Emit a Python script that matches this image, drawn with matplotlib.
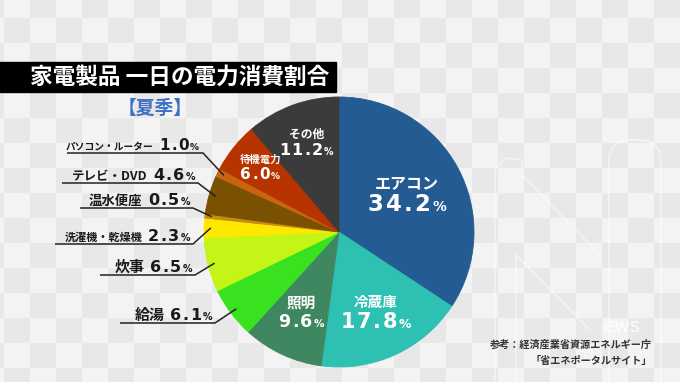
import numpy as np
import matplotlib
matplotlib.use('Agg')
import matplotlib.pyplot as plt
from matplotlib.patches import FancyBboxPatch
from matplotlib.offsetbox import TextArea, HPacker, VPacker, AnnotationBbox

plt.rcParams['font.family'] = ['Noto Sans CJK JP', 'DejaVu Sans']

W, H = 680, 382

# data (clockwise from 12 o'clock)
names = ['エアコン', '冷蔵庫', '照明', '給湯', '炊事', '洗濯機・乾燥機',
         '温水便座', 'テレビ・DVD', 'パソコン・ルーター', '待機電力', 'その他']
shares = [34.2, 17.8, 9.6, 6.1, 6.5, 2.3, 0.5, 4.6, 1.0, 6.0, 11.2]
colors = ['#235b92', '#2ec0b2', '#3e8760', '#39e21e', '#c4f516', '#ffe800',
          '#c88a10', '#7a5100', '#c8650e', '#b73400', '#3b3b3b']
title = '家電製品 一日の電力消費割合'
season = '【夏季】'
source = ['参考：経済産業省資源エネルギー庁', '「省エネポータルサイト」']

# layout (pixels, y from top)
CX, CY, R = 339, 232, 135
# idx: (radius fraction, name size, number size)
inner = {0: (0.57, 11.5, 16.5), 1: (0.66, 10.5, 15), 2: (0.66, 10.5, 12.5),
         9: (0.75, 7.5, 11), 10: (0.70, 8.5, 11.5)}
# idx: (name size, number size, text right, baseline, underline x0, x1, y)
outer = {8: (7, 11, 199, 150, 67, 203, 153),
         7: (9, 11.5, 195, 180, 62, 198, 183),
         6: (9.6, 11.5, 190, 205, 80, 193, 208),
         5: (8, 11.5, 190, 241, 55, 193, 244),
         4: (10.8, 11.5, 192, 272, 100, 195, 275),
         3: (10.8, 11.5, 212, 320, 120, 215, 323)}


def Y(y):
    return H - y


fig = plt.figure(figsize=(W / 100, H / 100), dpi=100)
ax = fig.add_axes([0, 0, 1, 1])

# checkered background
xx, yy = np.meshgrid(np.arange(W), np.arange(H))
cell = ((xx - 4) // 26 + (yy - 18) // 25) % 2
bg = np.where(cell[..., None] == 0, np.array([0.91, 0.91, 0.91]),
              np.array([0.953, 0.953, 0.953]))
ax.imshow(bg, extent=(0, W, 0, H), origin='upper', zorder=0)

# faint watermark in the background
ax.add_patch(FancyBboxPatch((609, Y(420)), 52, 280,
                            boxstyle='round,pad=0,rounding_size=22',
                            fc='none', ec=(1, 1, 1, 0.45), lw=1.5, zorder=1))
ax.plot([495, 495, 505, 522, 522, 600], [Y(382), Y(170), Y(158), Y(160), Y(175), Y(255)],
        color='white', alpha=0.4, lw=1.5, zorder=1)
ax.plot([516, 516, 590], [Y(382), Y(255), Y(330)], color='white', alpha=0.4, lw=1.5,
        zorder=1)
ax.text(622, Y(326), 'ews', color='white', alpha=0.8, fontsize=14,
        family='DejaVu Sans', ha='center', va='center', zorder=1)

wedges, _ = ax.pie(shares, colors=colors, startangle=90, counterclock=False,
                   center=(CX, Y(CY)), radius=R, wedgeprops=dict(linewidth=0.6))
for w, c in zip(wedges, colors):
    w.set_edgecolor(c)

total = sum(shares)
cum = np.cumsum([0] + shares[:-1])
mids = np.radians(360 * (cum + np.array(shares) / 2) / total)


def num_box(v, size, color):
    # wide, letter-spaced numbers with a small percent sign
    tp = dict(color=color, fontsize=size, family='DejaVu Sans', fontweight='bold')
    chars = [TextArea(ch, textprops=tp) for ch in f'{v:.1f}']
    digits = HPacker(children=chars, align='baseline', pad=0, sep=size * 0.09)
    pct = TextArea('%', textprops=dict(tp, fontsize=size * 0.6))
    return HPacker(children=[digits, pct], align='baseline', pad=0, sep=size * 0.08)


def place(box, x, y, align):
    ab = AnnotationBbox(box, (x, Y(y)), xycoords='data', box_alignment=align,
                        frameon=False, pad=0, zorder=5)
    ax.add_artist(ab)


# labels inside the pie
for i, (rf, ns, vs) in inner.items():
    x = CX + R * rf * np.sin(mids[i])
    y = CY - R * rf * np.cos(mids[i])
    top = TextArea(names[i], textprops=dict(color='white', fontweight='bold', fontsize=ns))
    box = VPacker(children=[top, num_box(shares[i], vs, 'white')],
                  align='center', pad=0, sep=1.5)
    place(box, x, y, (0.5, 0.5))

# labels outside the pie with leader lines
for i, (ns, vs, tx, ty, ux0, ux1, uy) in outer.items():
    name = TextArea(names[i], textprops=dict(color='#1a1a1a', fontweight='bold',
                                             fontsize=ns))
    box = HPacker(children=[name, num_box(shares[i], vs, '#1a1a1a')],
                  align='baseline', pad=0, sep=4)
    place(box, tx, ty + 3, (1, 0))
    ex = CX + R * 0.95 * np.sin(mids[i])
    ey = CY - R * 0.95 * np.cos(mids[i])
    ax.plot([ux0, ux1, ex], [Y(uy), Y(uy), Y(ey)], color='#222222', lw=1.1,
            solid_capstyle='butt', zorder=6)

# title bar
ax.add_patch(plt.Rectangle((0, Y(92)), 336, 30, color='black', zorder=3))
ax.text(30, Y(77), title, color='white', fontsize=16.3, fontweight='bold',
        va='center', ha='left', zorder=4)
ax.text(155, Y(108), season, color='#3f6fc2', fontsize=13.5, fontweight='bold',
        va='center', ha='center', zorder=4)

# source
ax.text(652, Y(345), source[0], color='#333333', fontsize=7.3, fontweight='bold',
        ha='right', va='center', zorder=4)
ax.text(652, Y(361), source[1], color='#333333', fontsize=7.3, fontweight='bold',
        ha='right', va='center', zorder=4)

ax.set_xlim(0, W)
ax.set_ylim(0, H)
ax.set_aspect('auto')
ax.axis('off')

fig.savefig('out.png', dpi=100)
